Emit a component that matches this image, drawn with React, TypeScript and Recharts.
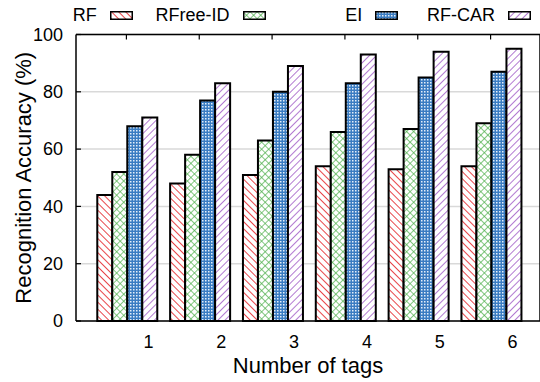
import * as React from 'react';
import { BarChart, Bar, XAxis, YAxis, CartesianGrid, Legend } from 'recharts';

const tagCounts = ['1', '2', '3', '4', '5', '6'];
const rfValues = [44, 48, 51, 54, 53, 54];
const rfreeValues = [52, 58, 63, 66, 67, 69];
const eiValues = [68, 77, 80, 83, 85, 87];
const rfcarValues = [71, 83, 89, 93, 94, 95];
const yTicks = [0, 20, 40, 60, 80, 100];

const seriesNames = ['RF', 'RFree-ID', 'EI', 'RF-CAR'];
const seriesValues = [rfValues, rfreeValues, eiValues, rfcarValues];
const patternIds = ['patRF', 'patRFree', 'patEI', 'patRFCAR'];

const data = tagCounts.map((tag, i) => {
    const row: Record<string, string | number> = { tag };
    seriesNames.forEach((name, s) => {
        row[name] = seriesValues[s][i];
    });
    return row;
});

const FONT = '"Liberation Sans", Arial, Helvetica, sans-serif';
const noLabel = () => '';

// hatch fills, shared by the bars and the legend swatches
const Patterns = () => (
    <svg width={0} height={0} style={{ position: 'absolute' }}>
        <defs>
            <pattern id="patRF" patternUnits="userSpaceOnUse" width={5} height={5} patternTransform="rotate(-45)">
                <rect width={5} height={5} fill="#fff" />
                <line x1={0} y1={0} x2={0} y2={5} stroke="#e3161b" strokeWidth={1.6} />
            </pattern>
            <pattern id="patRFree" patternUnits="userSpaceOnUse" width={5} height={5} patternTransform="rotate(45)">
                <rect width={5} height={5} fill="#fff" />
                <line x1={0} y1={0} x2={0} y2={5} stroke="#4daf4a" strokeWidth={1.4} />
                <line x1={0} y1={0} x2={5} y2={0} stroke="#4daf4a" strokeWidth={1.4} />
            </pattern>
            <pattern id="patEI" patternUnits="userSpaceOnUse" width={3} height={3}>
                <rect width={3} height={3} fill="#3a7cc2" />
                <rect x={1} y={1} width={1.5} height={1.5} fill="#e4eef9" />
            </pattern>
            <pattern id="patRFCAR" patternUnits="userSpaceOnUse" width={5} height={5} patternTransform="rotate(45)">
                <rect width={5} height={5} fill="#fff" />
                <line x1={0} y1={0} x2={0} y2={5} stroke="#984ec2" strokeWidth={1.5} />
            </pattern>
        </defs>
    </svg>
);

const renderLegend = () => (
    <div style={{ display: 'flex', fontFamily: FONT, fontSize: 18, lineHeight: '18px', color: '#000' }}>
        {seriesNames.map((name, i) => (
            <div
                key={name}
                style={{ width: 132.75, display: 'flex', justifyContent: 'flex-end', alignItems: 'center' }}
            >
                <span style={{ marginRight: 13 }}>{name}</span>
                <svg width={23} height={9}>
                    <rect x={0.75} y={0.75} width={21.5} height={7.5} fill={`url(#${patternIds[i]})`} stroke="#000" strokeWidth={1.5} />
                </svg>
            </div>
        ))}
    </div>
);

const App = () => {
    return (
        <div style={{ position: 'absolute', left: 0, top: 0, fontFamily: FONT }}>
            <Patterns />
            <BarChart
                width={540}
                height={382}
                data={data}
                margin={{ top: 4.5, right: -1, left: 0, bottom: 0 }}
                barCategoryGap="10%"
                barGap={0}
            >
                <CartesianGrid vertical={false} stroke="#d9d9d9" strokeWidth={1.5} />
                <XAxis
                    dataKey="tag"
                    height={61}
                    padding={{ left: 14, right: 13 }}
                    axisLine={{ stroke: '#000', strokeWidth: 1.5 }}
                    tickLine={false}
                    tickSize={4}
                    tickMargin={10}
                    tick={{ dx: 22, fontSize: 18, fill: '#000', fontFamily: FONT }}
                    label={{ value: 'Number of tags', position: 'insideBottom', offset: 9, fontSize: 22, fill: '#000', fontFamily: FONT }}
                />
                <XAxis
                    xAxisId="top"
                    dataKey="tag"
                    orientation="top"
                    height={30}
                    padding={{ left: 14, right: 13 }}
                    axisLine={{ stroke: '#000', strokeWidth: 1.5 }}
                    tickLine={{ stroke: '#000', strokeWidth: 1.2 }}
                    tickSize={-5}
                    tickFormatter={noLabel}
                />
                <YAxis
                    width={76}
                    domain={[0, 100]}
                    ticks={yTicks}
                    interval={0}
                    axisLine={{ stroke: '#000', strokeWidth: 1.5 }}
                    tickLine={{ stroke: '#000', strokeWidth: 1.2 }}
                    tickSize={-5}
                    tickMargin={18}
                    tick={{ fontSize: 18, fill: '#000', fontFamily: FONT }}
                    label={{ value: 'Recognition Accuracy (%)', angle: -90, position: 'center', dx: -15, fontSize: 22, fill: '#000', fontFamily: FONT }}
                />
                <YAxis
                    yAxisId="right"
                    orientation="right"
                    width={1}
                    domain={[0, 100]}
                    ticks={yTicks}
                    interval={0}
                    axisLine={{ stroke: '#000', strokeWidth: 1.5 }}
                    tickLine={{ stroke: '#000', strokeWidth: 1.2 }}
                    tickSize={-5}
                    tickFormatter={noLabel}
                />
                <Legend
                    layout="horizontal"
                    verticalAlign="middle"
                    align="center"
                    content={renderLegend}
                    wrapperStyle={{ top: 6, left: 0, width: 540 }}
                />
                {seriesNames.map((name, i) => (
                    <Bar
                        key={name}
                        dataKey={name}
                        fill={`url(#${patternIds[i]})`}
                        stroke="#000"
                        strokeWidth={2}
                        isAnimationActive={false}
                    />
                ))}
            </BarChart>
        </div>
    );
};

export default App;
